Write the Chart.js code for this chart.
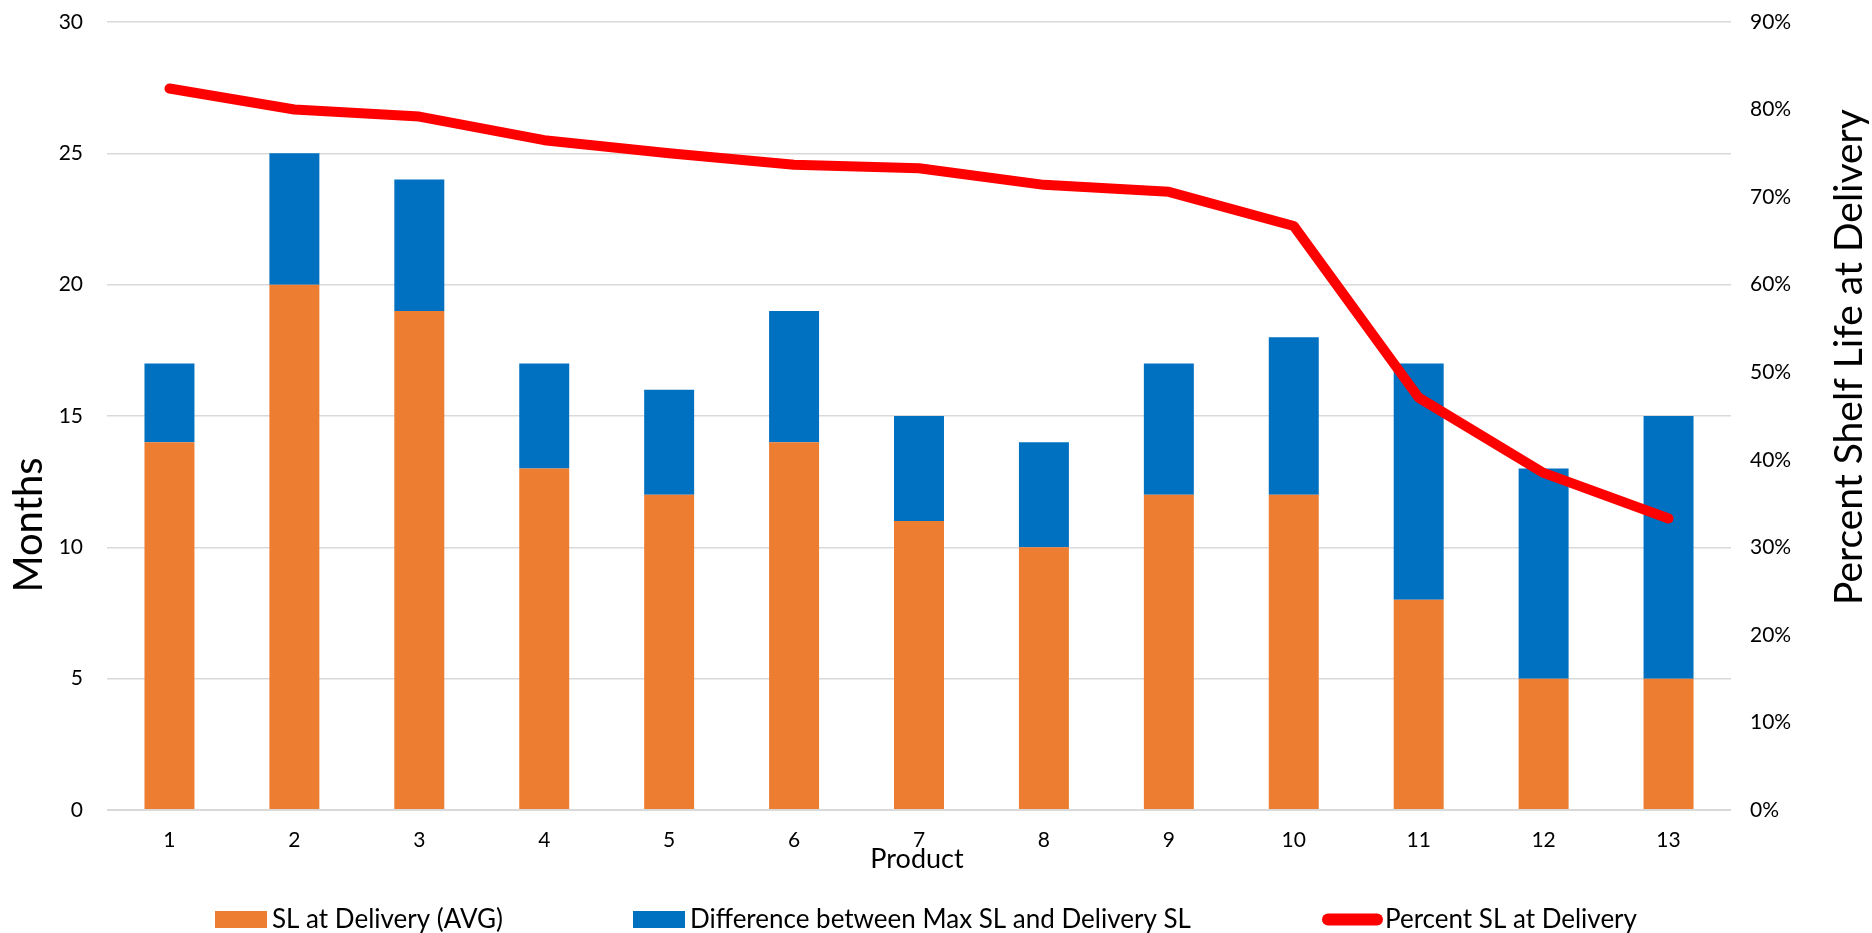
<!DOCTYPE html>
<html>
<head>
<meta charset="utf-8">
<title>Shelf Life at Delivery</title>
<script src="https://cdn.jsdelivr.net/npm/chart.js@4.4.1/dist/chart.umd.min.js"></script>
<style>
  html, body { margin: 0; padding: 0; background: #fff; }
  #wrap { width: 1872px; height: 933px; }
</style>
</head>
<body>
<div id="wrap"><canvas id="slChart" width="1872" height="933"></canvas></div>
<script>
// ===== Data =====
const products = ['1', '2', '3', '4', '5', '6', '7', '8', '9', '10', '11', '12', '13'];
const slAtDelivery = [14, 20, 19, 13, 12, 14, 11, 10, 12, 12, 8, 5, 5];
const slDifference = [3, 5, 5, 4, 4, 5, 4, 4, 5, 6, 9, 8, 10];
const pctAtDelivery = [82.4, 80.0, 79.2, 76.5, 75.0, 73.7, 73.3, 71.4, 70.6, 66.7, 47.1, 38.5, 33.3];

// ===== Style =====
const FONT = "'Liberation Sans Narrow', 'Arial Narrow', Lato, sans-serif";
const TEXT = '#000';
const ORANGE = '#ED7D31';
const BLUE = '#0070C0';
const RED = '#FF0000';
const GRID = '#d9d9d9';

// legend item start positions along the bottom
const LEGEND_X = [215, 633, 1322];

// ===== Axis titles =====
const axisTitles = {
  id: 'axisTitles',
  afterDraw(chart) {
    const { ctx, chartArea } = chart;
    ctx.save();
    ctx.fillStyle = TEXT;
    ctx.textAlign = 'center';
    ctx.textBaseline = 'alphabetic';

    ctx.font = `40px ${FONT}`;
    ctx.save();
    ctx.translate(42, 525);
    ctx.rotate(-Math.PI / 2);
    ctx.fillText('Months', 0, 0);
    ctx.restore();

    ctx.font = `39px ${FONT}`;
    ctx.save();
    ctx.translate(1862, 357);
    ctx.rotate(-Math.PI / 2);
    ctx.fillText('Percent Shelf Life at Delivery', 0, 0);
    ctx.restore();

    ctx.font = `27px ${FONT}`;
    ctx.fillText('Product', (chartArea.left + chartArea.right) / 2 - 2, 868);
    ctx.restore();
  },
};

// ===== Legend =====
const bottomLegend = {
  id: 'bottomLegend',
  afterDraw(chart) {
    const { ctx } = chart;
    const baseY = 928;
    ctx.save();
    ctx.font = `26px ${FONT}`;
    ctx.textAlign = 'left';
    ctx.textBaseline = 'alphabetic';
    chart.data.datasets.forEach((ds, i) => {
      const x = LEGEND_X[i];
      if (ds.type === 'line') {
        ctx.strokeStyle = ds.borderColor;
        ctx.lineWidth = 12;
        ctx.lineCap = 'round';
        ctx.beginPath();
        ctx.moveTo(x + 6, 919.5);
        ctx.lineTo(x + 55, 919.5);
        ctx.stroke();
        ctx.fillStyle = TEXT;
        ctx.fillText(ds.label, x + 63, baseY);
      } else {
        ctx.fillStyle = ds.backgroundColor;
        ctx.fillRect(x, 911, 52, 17);
        ctx.fillStyle = TEXT;
        ctx.fillText(ds.label, x + 57, baseY);
      }
    });
    ctx.restore();
  },
};

// fixed axis band sizes; drop the extra label padding so the plot starts near the top
function fixWidth(w) {
  return (s) => {
    s.width = w;
    s.paddingTop = 12;
    s.paddingBottom = 0;
  };
}

// ===== Chart =====
const tickFont = { family: FONT, size: 21 };

new Chart(document.getElementById('slChart'), {
  type: 'bar',
  data: {
    labels: products,
    datasets: [
      {
        label: 'SL at Delivery (AVG)',
        data: slAtDelivery,
        backgroundColor: ORANGE,
        yAxisID: 'y',
        stack: 'sl',
        order: 1,
        barPercentage: 0.4,
        categoryPercentage: 1,
      },
      {
        label: 'Difference between Max SL and Delivery SL',
        data: slDifference,
        backgroundColor: BLUE,
        yAxisID: 'y',
        stack: 'sl',
        order: 1,
        barPercentage: 0.4,
        categoryPercentage: 1,
      },
      {
        type: 'line',
        label: 'Percent SL at Delivery',
        data: pctAtDelivery,
        yAxisID: 'y1',
        borderColor: RED,
        backgroundColor: RED,
        borderWidth: 10,
        borderCapStyle: 'round',
        borderJoinStyle: 'round',
        pointRadius: 0,
        tension: 0,
        order: 0,
      },
    ],
  },
  options: {
    responsive: false,
    animation: false,
    layout: { padding: { top: 22, left: 0, right: 0, bottom: 0 } },
    plugins: {
      legend: { display: false },
      tooltip: { enabled: false },
    },
    scales: {
      x: {
        stacked: true,
        grid: { display: false, drawTicks: false },
        border: { display: false },
        ticks: { font: tickFont, color: TEXT, padding: 18, maxRotation: 0 },
        afterFit: (s) => { s.height = 123; },
      },
      y: {
        stacked: true,
        position: 'left',
        min: 0,
        max: 30,
        ticks: { stepSize: 5, padding: 24, font: tickFont, color: TEXT },
        grid: {
          color: GRID,
          lineWidth: (c) => (c.tick && c.tick.value === 0 ? 2 : 1.5),
          drawTicks: false,
        },
        border: { display: false },
        afterFit: fixWidth(107),
      },
      y1: {
        position: 'right',
        min: 0,
        max: 90,
        ticks: { stepSize: 10, padding: 19, font: tickFont, color: TEXT, callback: (v) => v + '%' },
        grid: { display: false, drawTicks: false },
        border: { display: false },
        afterFit: fixWidth(141),
      },
    },
  },
  plugins: [axisTitles, bottomLegend],
});
</script>
</body>
</html>
